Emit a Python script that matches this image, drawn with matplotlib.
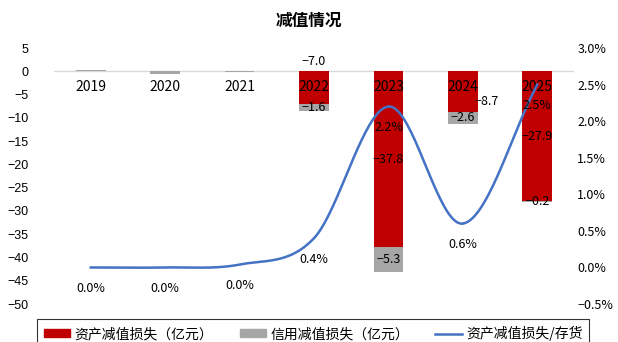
import numpy as np
import matplotlib
matplotlib.use("Agg")
import matplotlib.pyplot as plt
from matplotlib.patches import Patch
from matplotlib.lines import Line2D

plt.rcParams['font.family'] = ['Noto Sans CJK SC', 'DejaVu Sans']
plt.rcParams['axes.unicode_minus'] = True

# data
years = ["2019", "2020", "2021", "2022", "2023", "2024", "2025"]
asset_loss = [0.0, 0.0, 0.0, -7.0, -37.8, -8.7, -27.9]
credit_loss = [0.2, -0.6, -0.2, -1.6, -5.3, -2.6, -0.2]
ratio_pct = [0.0, 0.0, 0.04, 0.4, 2.2, 0.6, 2.5]

RED = "#C00000"
GRAY = "#A6A6A6"
BLUE = "#4472C4"


def catmull_rom(xs, ys, n=40):
    xs = np.asarray(xs, float)
    ys = np.asarray(ys, float)
    px = np.concatenate([[2 * xs[0] - xs[1]], xs, [2 * xs[-1] - xs[-2]]])
    py = np.concatenate([[2 * ys[0] - ys[1]], ys, [2 * ys[-1] - ys[-2]]])
    out_x, out_y = [], []
    t = np.linspace(0, 1, n)
    for i in range(1, len(px) - 2):
        for arr, out in ((px, out_x), (py, out_y)):
            p0, p1, p2, p3 = arr[i - 1], arr[i], arr[i + 1], arr[i + 2]
            out.extend(0.5 * ((2 * p1) + (-p0 + p2) * t
                              + (2 * p0 - 5 * p1 + 4 * p2 - p3) * t ** 2
                              + (-p0 + 3 * p1 - 3 * p2 + p3) * t ** 3))
    return np.array(out_x), np.array(out_y)


def fmt(v, suffix=""):
    return f"{v:.1f}{suffix}".replace("-", "\u2212")


fig = plt.figure(figsize=(6.18, 3.42), dpi=100)
ax = fig.add_axes([0.0866, 0.111, 0.843, 0.7486])
ax2 = ax.twinx()

x = np.arange(len(years))
w = 0.4

ax.bar(x, asset_loss, w, color=RED, zorder=2)
bottoms = [a if c < 0 else 0 for a, c in zip(asset_loss, credit_loss)]
ax.bar(x, credit_loss, w, bottom=bottoms, color=GRAY, zorder=2)

ax.set_xlim(-0.5, len(years) - 0.5)
ax.set_ylim(-50, 5)
ax.set_yticks(np.arange(-50, 6, 5))
ax.axhline(0, color="#D9D9D9", lw=1, zorder=1)
ax.set_axisbelow(False)
for s in ax.spines.values():
    s.set_visible(False)
for s in ax2.spines.values():
    s.set_visible(False)

ax.set_xticks(x)
ax.set_xticklabels(years, family=['Liberation Sans'], fontsize=9)
ax.spines['bottom'].set_position(('data', 0))
ax.tick_params(axis='x', length=0, pad=6)
ax.tick_params(axis='y', length=0, pad=18, labelsize=9)
for lab in ax.get_yticklabels():
    lab.set_family(['Liberation Sans'])

# bar labels
red_offsets = {3: (0, 7), 5: (17, -7)}
for i, v in enumerate(asset_loss):
    if abs(v) < 0.5:
        continue
    dx, dy = red_offsets.get(i, (0, 0))
    yv = 0 if i == 3 else v / 2
    ax.annotate(fmt(v), (i, yv), xytext=(dx, dy), textcoords="offset points",
                ha="center", va="center", fontsize=9, zorder=5)
for i, (a, c) in enumerate(zip(asset_loss, credit_loss)):
    if abs(a) < 0.5:
        continue
    ax.annotate(fmt(c), (i, a + c / 2), xytext=(0, 0), textcoords="offset points",
                ha="center", va="center", fontsize=9, zorder=5)

# ratio line
sx, sy = catmull_rom(x, ratio_pct)
ax2.plot(sx, sy, color=BLUE, lw=1.8, zorder=3)
ax2.set_ylim(-0.5, 3.0)
ticks = np.arange(-0.5, 3.01, 0.5)
ax2.set_yticks(ticks)
ax2.set_yticklabels([fmt(t, "%") for t in ticks])
ax2.tick_params(axis='y', length=0, pad=2, labelsize=9)
for i, v in enumerate(ratio_pct):
    ax2.annotate(fmt(v, "%"), (i, v), xytext=(0, -15), textcoords="offset points",
                 ha="center", va="center", fontsize=9)

fig.suptitle("减值情况", y=0.965, fontsize=12, fontweight="bold")

handles = [Patch(color=RED), Patch(color=GRAY), Line2D([], [], color=BLUE, lw=1.8)]
labels = ["资产减值损失（亿元）", "信用减值损失（亿元）", "资产减值损失/存货"]
leg = fig.legend(handles, labels, loc="upper center", bbox_to_anchor=(0.507, 0.0673),
                 ncol=3, fontsize=10, frameon=True, fancybox=False, edgecolor="black",
                 handlelength=1.9, handleheight=0.45, handletextpad=0.3,
                 columnspacing=1.9, borderpad=0.5, borderaxespad=0)
leg.get_frame().set_linewidth(0.8)

fig.savefig("out.png", dpi=100)
